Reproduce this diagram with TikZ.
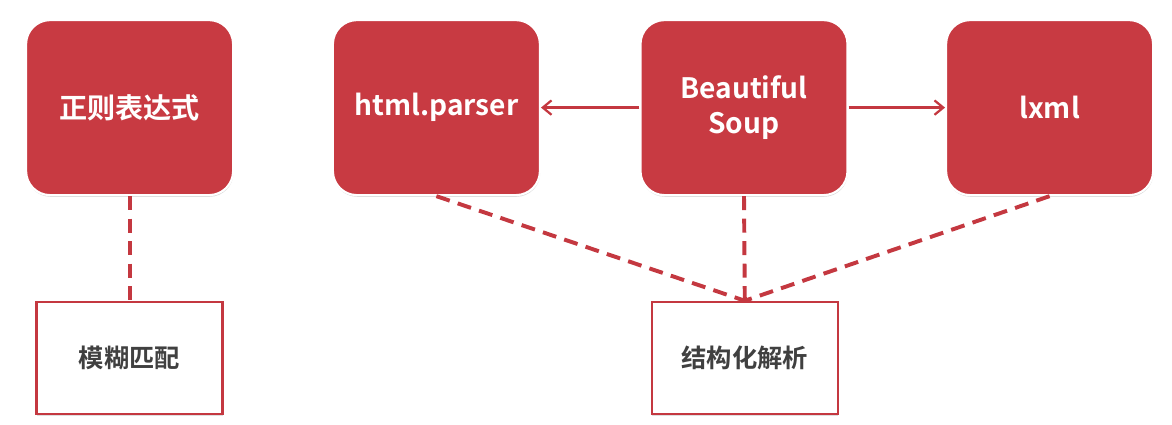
\documentclass[tikz,border=0pt]{standalone}
\usepackage{fontspec}
\setmainfont{Noto Sans CJK SC}[BoldFont={Noto Sans CJK SC Bold}]
\usetikzlibrary{arrows.meta,positioning,shadows}
\definecolor{boxred}{RGB}{200,58,66}
\definecolor{linered}{RGB}{196,56,64}
\definecolor{textgray}{RGB}{64,64,64}

\begin{document}
\begin{tikzpicture}[
  lib/.style={draw=white, line width=1.5pt, fill=boxred, rounded corners=0.6cm, minimum width=5.175cm, minimum height=4.375cm, align=center, text=white, font=\fontsize{20}{25}\selectfont\bfseries, drop shadow={opacity=0.3, shadow xshift=0.3pt, shadow yshift=-1.2pt}},
  use/.style={draw=linered, line width=1.8pt, fill=white, minimum width=4.65cm, minimum height=2.8cm, text=textgray, font=\fontsize{18}{20}\selectfont\bfseries, drop shadow={opacity=0.25, shadow xshift=0.3pt, shadow yshift=-1.2pt}},
  arr/.style={-{Straight Barb[length=2.2mm, width=3.6mm]}, line width=1.6pt, draw=linered},
  dsh/.style={line width=2.8pt, draw=linered, dash pattern=on 10pt off 6pt}
]
\useasboundingbox (0,0) rectangle (29.3,-10.625);
\node[lib] (re) at (3.24,-2.69) {正则表达式};
\node[lib] (hp) at (10.91,-2.69) {html.parser};
\node[lib] (bs) at (18.60,-2.69) {Beautiful\\Soup};
\node[lib] (lx) at (26.24,-2.69) {lxml};
\node[use] (fz) at (3.24,-8.95) {模糊匹配};
\node[use] (jg) at (18.62,-8.95) {结构化解析};
\draw[arr] (bs) -- (hp);
\draw[arr] (bs) -- (lx);
\draw[dsh] (re.south) -- (fz.north);
\draw[dsh] (hp.south) -- (jg.north);
\draw[dsh] (bs.south) -- (jg.north);
\draw[dsh] (lx.south) -- (jg.north);
\end{tikzpicture}
\end{document}
